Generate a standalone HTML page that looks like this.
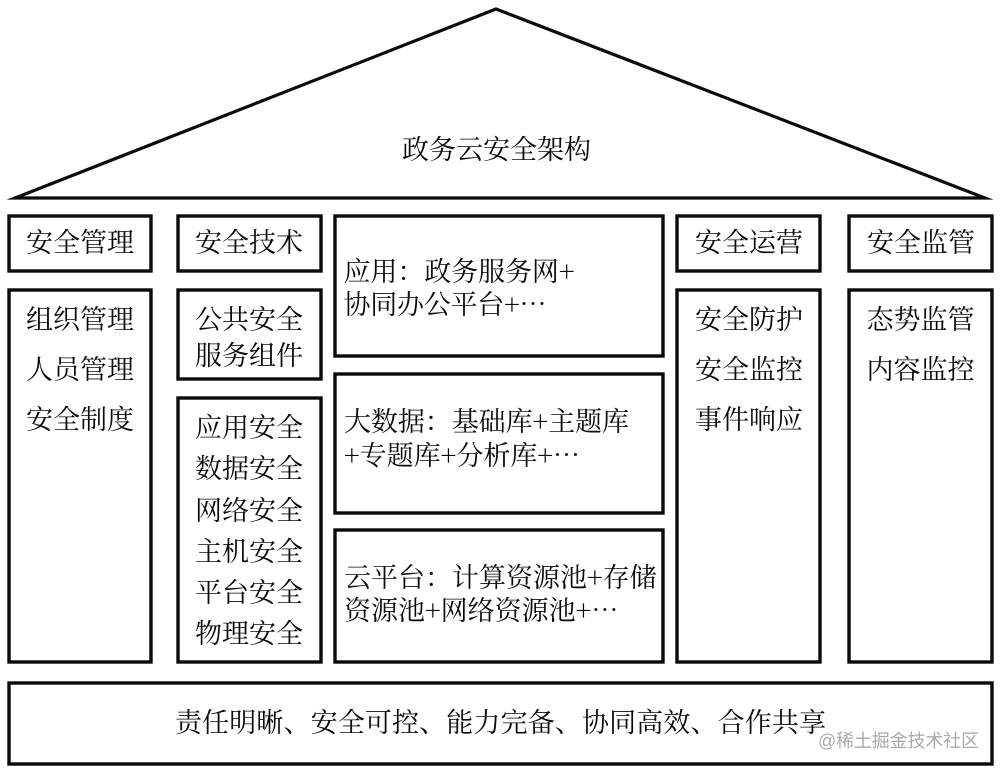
<!DOCTYPE html>
<html><head><meta charset="utf-8">
<style>
html,body{margin:0;padding:0;background:#fff}
svg{display:block}
text{font-family:"Noto Serif CJK SC","Liberation Serif",serif;font-size:27px;fill:#0a0a0a}
rect{fill:#fff;stroke:#0a0a0a;stroke-width:3.4}
</style></head><body>
<svg width="1000" height="772" viewBox="0 0 1000 772" xmlns="http://www.w3.org/2000/svg">
<polygon points="496,9 985,198 15,198" fill="#fff" stroke="#0a0a0a" stroke-width="3.2" stroke-miterlimit="10"/>
<text x="402" y="159">政务云安全架构</text>

<rect x="9" y="216" width="142" height="55"/>
<text x="26" y="252">安全管理</text>
<rect x="9" y="290" width="142" height="372"/>
<text x="26" y="329">组织管理</text>
<text x="26" y="379">人员管理</text>
<text x="26" y="429">安全制度</text>

<rect x="178" y="216" width="143" height="55"/>
<text x="195" y="252">安全技术</text>
<rect x="178" y="290" width="143" height="89"/>
<text x="195" y="329">公共安全</text>
<text x="195" y="365">服务组件</text>
<rect x="178" y="398" width="143" height="264"/>
<text x="195" y="437">应用安全</text>
<text x="195" y="478">数据安全</text>
<text x="195" y="520">网络安全</text>
<text x="195" y="561">主机安全</text>
<text x="195" y="602">平台安全</text>
<text x="195" y="643">物理安全</text>

<rect x="335" y="216" width="328" height="140"/>
<text x="343.5" y="281" textLength="231" lengthAdjust="spacing">应用：政务服务网+</text>
<text x="343.5" y="314" textLength="203" lengthAdjust="spacing">协同办公平台+…</text>
<rect x="335" y="374" width="328" height="139"/>
<text x="344" y="431" textLength="285" lengthAdjust="spacing">大数据：基础库+主题库</text>
<text x="344" y="465">+专题库+分析库+…</text>
<rect x="335" y="530" width="328" height="132"/>
<text x="344" y="587">云平台：计算资源池+存储</text>
<text x="344" y="620">资源池+网络资源池+…</text>

<rect x="677" y="216" width="143" height="55"/>
<text x="695" y="252">安全运营</text>
<rect x="677" y="290" width="143" height="372"/>
<text x="695" y="329">安全防护</text>
<text x="695" y="379">安全监控</text>
<text x="695" y="429">事件响应</text>

<rect x="849" y="216" width="143" height="55"/>
<text x="867" y="252">安全监管</text>
<rect x="849" y="290" width="143" height="372"/>
<text x="866.5" y="329">态势监管</text>
<text x="866.5" y="379">内容监控</text>

<rect x="9" y="683" width="983" height="81"/>
<text x="175" y="732" textLength="651" lengthAdjust="spacing">责任明晰、安全可控、能力完备、协同高效、合作共享</text>
<text x="818" y="747" textLength="161" lengthAdjust="spacing" style="font-family:'Liberation Sans','Noto Sans CJK SC',sans-serif;font-size:18px;fill:#aaaaaa">@稀土掘金技术社区</text>
</svg>
</body></html>
